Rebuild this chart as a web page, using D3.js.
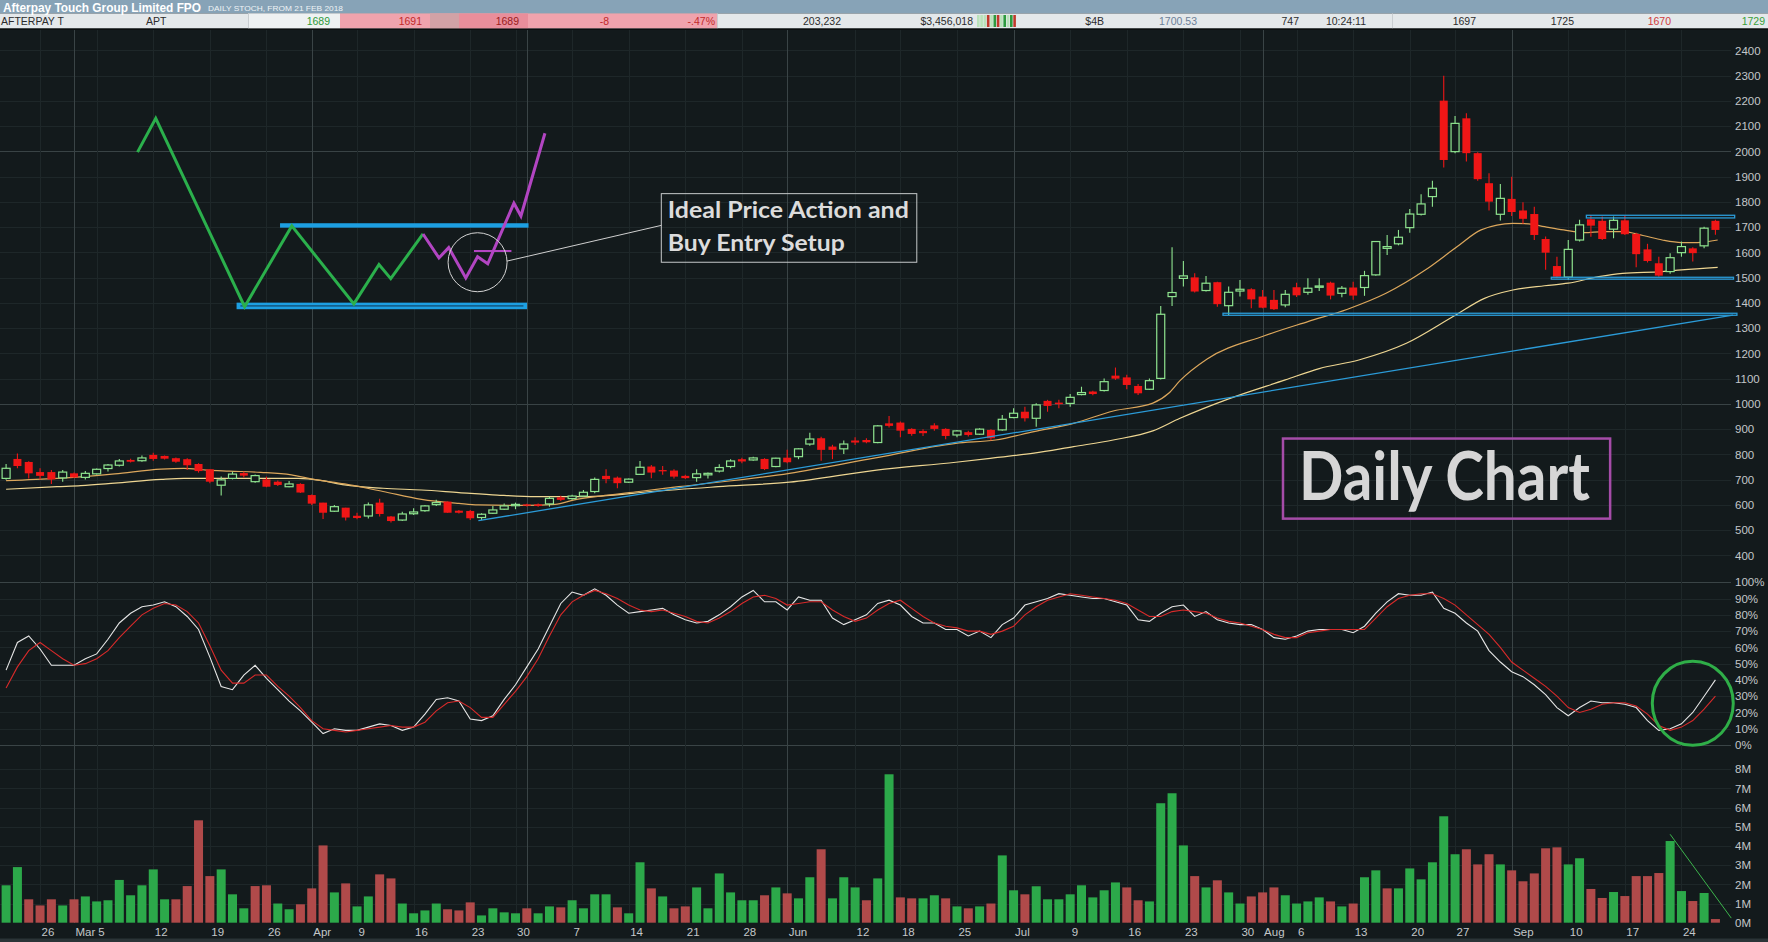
<!DOCTYPE html>
<html><head><meta charset="utf-8"><title>Afterpay Touch Group Limited FPO - Daily</title>
<script src="https://d3js.org/d3.v7.min.js"></script>
<style>html,body{margin:0;padding:0;background:#131a1c;overflow:hidden}svg{display:block}</style>
</head><body>
<svg id="chart" width="1768" height="942" xmlns="http://www.w3.org/2000/svg"></svg>
<script>
// ---------------- DATA ----------------
const opens = [705,782,770,730,730,707,725,709,723,744, 757,778,775,798,794,785,781,762,741,678,
 705,726,692,701,692,672,683,639,609,575, 589,557,556,609,554,540,565,577,601,613,
 577,576,550,567,583,597,602,602,604,630, 625,635,653,715,708,690,721,752,738,736,
 715,708,719,734,752,781,778,782,752,787, 791,841,864,831,822,855,857,847,923,926,
 901,893,915,901,877,888,880,897,897,946, 969,943,1012,1005,1002,1037,1049,1053,1112,1105,
 1071,1058,1101,1425,1497,1501,1449,1482,1389,1447, 1454,1425,1412,1392,1462,1442,1462,1480,1438,1461,
 1461,1511,1616,1634,1698,1751,1821,2201,1999,2131, 1993,1874,1751,1812,1766,1752,1653,1546,1502,1649,
 1731,1725,1692,1727,1673,1612,1557,1524,1599,1616, 1626,1725];
const highs = [762,804,773,745,738,738,728,734,744,762, 782,783,796,807,796,788,785,765,741,712,
 732,732,720,712,697,695,686,641,609,600, 589,569,610,624,556,573,587,600,620,613,
 580,580,567,596,606,609,605,606,633,636, 640,659,709,741,712,705,774,758,754,741,
 719,741,728,761,781,787,791,785,787,818, 824,886,870,838,855,868,864,916,952,930,
 904,900,923,904,897,894,904,900,956,983, 989,1003,1016,1016,1039,1068,1052,1101,1144,1115,
 1079,1101,1388,1620,1566,1517,1507,1484,1465,1491, 1458,1451,1451,1451,1480,1498,1498,1484,1467,1484,
 1527,1645,1669,1689,1772,1830,1884,2300,2140,2151, 1997,1913,1871,1900,1799,1781,1663,1583,1649,1729,
 1748,1742,1742,1744,1678,1634,1583,1597,1643,1620, 1702,1729];
const lows = [700,745,705,701,683,692,707,701,720,732, 752,768,771,775,780,767,738,728,686,637,
 701,709,688,670,675,670,647,600,544,572, 538,543,546,554,530,536,560,573,596,569,
 566,540,540,564,580,583,594,593,593,615, 620,633,646,686,666,687,719,706,719,705,
 703,692,705,728,745,765,775,738,749,765, 781,834,775,781,802,837,844,844,907,868,
 874,873,894,860,868,871,877,855,894,943, 930,910,969,983,989,1034,1034,1049,1095,1058,
 1035,1055,1097,1388,1465,1441,1445,1385,1352,1425, 1379,1379,1372,1383,1423,1432,1447,1414,1422,1412,
 1428,1508,1590,1628,1678,1746,1781,1936,1993,1960, 1884,1766,1726,1744,1713,1649,1531,1498,1491,1643,
 1662,1649,1656,1669,1541,1560,1504,1515,1583,1564, 1616,1670];
const closes = [745,754,725,715,701,730,709,725,741,758, 774,771,786,782,783,771,757,734,692,699,
 722,716,716,672,679,683,649,605,569,593, 550,548,600,564,536,564,572,596,609,569,
 569,547,563,580,596,602,597,596,626,620, 635,650,701,702,686,702,749,728,733,712,
 706,723,725,748,774,772,786,742,785,769, 822,861,818,818,841,847,848,913,913,894,
 881,884,901,873,893,877,900,864,939,963, 943,996,992,999,1026,1045,1039,1088,1100,1075,
 1042,1092,1355,1441,1507,1445,1478,1395,1442,1454, 1414,1381,1375,1434,1430,1458,1467,1429,1458,1429,
 1508,1643,1623,1660,1752,1792,1854,1966,2111,1993, 1890,1801,1814,1760,1733,1669,1599,1504,1612,1709,
 1706,1653,1727,1672,1593,1566,1508,1579,1623,1597, 1696,1689];
// volume in millions of shares
const volumes = [1.95,2.9,1.22,0.9,1.22,0.9,1.22,1.37,1.11,1.17, 2.23,1.43,1.95,2.78,1.22,1.22,1.91,5.34,2.43,2.78,
 1.48,0.75,1.91,1.95,1.0,0.7,0.96,1.79,4.03,1.58, 2.05,0.85,1.37,2.52,2.31,1.0,0.49,0.64,1.0,0.7,
 0.64,1.06,0.38,0.75,0.54,0.49,0.75,0.49,0.85,0.8, 1.17,0.75,1.48,1.48,0.8,0.49,3.15,1.79,1.37,0.75,
 0.85,1.84,0.75,2.57,1.58,1.17,1.17,1.43,1.84,1.53, 1.27,2.37,3.83,1.27,2.37,1.84,1.17,2.31,7.74,1.32,
 1.27,1.27,1.43,1.27,0.85,0.75,0.85,1.0,3.51,1.69, 1.48,1.9,1.22,1.22,1.48,1.95,1.32,1.69,2.1,1.84,
 1.17,1.11,6.23,6.75,4.03,2.43,1.84,2.21,1.58,1.0, 1.37,1.58,1.84,1.43,1.0,1.11,1.32,1.11,0.85,1.0,
 2.37,2.73,1.79,1.79,2.83,2.26,3.15,5.55,3.57,3.83, 3.04,3.57,3.04,2.73,2.16,2.57,3.88,3.93,3.04,3.36,
 1.76,1.29,1.6,1.39,2.43,2.43,2.59,4.26,1.65,1.13, 1.55,0.19];
// G = up-volume bar, R = down-volume bar
const volumeDir = ("GGRRRGRGGG"+"GGGGGRRRRG"+"GGRRGGRRRG"+"RGGRRGGGGR"+"RRGGGGRGGR"+
 "GGGGRGGRGR"+"RGGGGGGRGR"+"GGRGGGRGGR"+"RGGRGRGRGG"+"RGGGGGGGGR"+
 "RGGGGRGRGG"+"RRRGGGGRGR"+"GGRGGGGGGR"+"RRGRRRRRGG"+"RRGRRRRGGR"+"GR").split("");
// slow stochastic %K and %D
const stochK = [46,63,67,59,49,49,49,53,56,65, 75,81,85,86,88,85,79,71,54,36,
 34,43,49,41,34,27,21,14,7,10, 9,9,11,13,12,9,11,19,28,29,
 27,16,15,18,28,37,48,59,73,87, 94,92,96,92,86,81,82,83,84,80,
 77,75,76,80,85,91,95,88,88,83, 91,89,89,78,74,77,80,87,89,86,
 79,75,75,71,71,67,70,66,74,78, 86,88,90,93,92,91,90,90,88,86,
 77,76,81,85,86,79,82,77,75,74, 74,71,66,65,67,70,71,71,71,69,
 73,81,88,93,92,92,94,84,81,75, 70,58,51,45,42,37,31,23,18,23,
 27,26,26,25,23,15,9,10,13,20, 30,40];
const stochD = [35,48,58,63,58,53,49,50,53,58, 66,73,80,84,87,86,82,75,61,46,
 38,38,43,43,36,30,23,15,10,9, 8,9,10,11,12,11,11,14,21,26,
 27,23,17,17,25,33,42,53,67,80, 88,92,95,93,90,86,83,82,83,81,
 79,76,75,78,82,87,91,92,90,86, 87,88,88,83,79,76,78,83,87,89,
 84,79,75,73,72,70,70,68,70,73, 80,85,89,91,93,92,91,90,89,87,
 83,79,79,82,83,82,81,78,76,75, 73,71,68,66,66,69,70,71,71,71,
 71,78,85,90,92,93,93,90,86,80, 74,68,60,51,46,41,36,30,23,20,
 22,25,26,26,24,19,12,9,11,15, 22,30];
// moving averages read at [day index, price]
const maFast = [[0,696],[4.5,705],[9.6,723],[13.7,742],[15.7,745],[17.7,738],[19.7,734],[22.5,729],[25.2,719],
 [27.2,701],[29.9,683],[33.3,653],[36.7,622],[40,606],[41.7,600],[46,598],[48.5,602],[50.2,620],[52.5,635],
 [55.9,653],[59.4,672],[69.2,725],[76.2,781],[83.9,844],[87.4,857],[90.8,890],[94.3,923],[97.8,972],
 [101.3,1003],[102.7,1042],[103.7,1092],[106.1,1178],[111.1,1269],[115,1326],[118.5,1375],[121.9,1438],
 [125.4,1531],[128.2,1623],[130.3,1689],[133.1,1715],[134.5,1713],[135.9,1702],[137.6,1689],[139.4,1678],
 [141.1,1682],[142.8,1682],[144.6,1667],[146.3,1649],[148,1639],[149.4,1639],[151.2,1649]];
const maSlow = [[0,662],[4.5,672],[6.6,676],[9.6,686],[13.7,701],[15.7,705],[19.7,705],[25.8,705],[27.9,696],
 [29.9,679],[33.3,666],[36.7,659],[40,649],[43.4,639],[46.8,633],[50.2,633],[52.5,635],[57,653],[62.9,672],
 [69.2,690],[76.9,738],[83.9,769],[87.4,787],[90.8,805],[94.3,831],[97.8,857],[101.3,893],[103.7,943],
 [108,1020],[113,1095],[116,1140],[119.5,1174],[123.7,1240],[127.9,1348],[130.6,1418],[133.1,1451],
 [135.9,1468],[138,1478],[140.7,1504],[142.8,1517],[146.3,1524],[148,1531],[151.2,1541]];
// axis tick values / labels
const priceTicks = [400,500,600,700,800,900,1000,1100,1200,1300,1400,1500,1600,1700,1800,1900,2000,2100,2200,2300,2400];
const stochTicks = [0,10,20,30,40,50,60,70,80,90,100];
const volumeTicks = [0,1,2,3,4,5,6,7,8];
const dateLabels = [[3,"26"],[6,"Mar"],[8,"5"],[13,"12"],[18,"19"],[23,"26"],[27,"Apr"],[31,"9"],[36,"16"],
 [41,"23"],[45,"30"],[50,"7"],[55,"14"],[60,"21"],[65,"28"],[69,"Jun"],[75,"12"],[79,"18"],[84,"25"],
 [89,"Jul"],[94,"9"],[99,"16"],[104,"23"],[109,"30"],[111,"Aug"],[114,"6"],[119,"13"],[124,"20"],
 [128,"27"],[133,"Sep"],[138,"10"],[143,"17"],[148,"24"]];
const monthStarts = [6,27,46,69,89,111,133];
const weekStarts = [3,8,13,18,23,31,36,41,45,50,55,60,65,75,79,84,94,99,104,109,114,119,124,128,138,143,148];
// quote row
const quoteCells = [
 {t:"AFTERPAY T",x:1,a:"start",c:"#2c2c2c"},{t:"APT",x:146,a:"start",c:"#2c2c2c"},
 {t:"1689",x:330,a:"end",c:"#2f9a3a"},{t:"1691",x:422,a:"end",c:"#c22a2a"},
 {t:"1689",x:519,a:"end",c:"#9a1c1c"},{t:"-8",x:609,a:"end",c:"#c22a2a"},
 {t:"-.47%",x:715,a:"end",c:"#c22a2a"},{t:"203,232",x:841,a:"end",c:"#2c2c2c"},
 {t:"$3,456,018",x:973,a:"end",c:"#2c2c2c"},{t:"$4B",x:1104,a:"end",c:"#2c2c2c"},
 {t:"1700.53",x:1197,a:"end",c:"#6c8098"},{t:"747",x:1299,a:"end",c:"#2c2c2c"},
 {t:"10:24:11",x:1366,a:"end",c:"#2c2c2c"},{t:"1697",x:1476,a:"end",c:"#2c2c2c"},
 {t:"1725",x:1574,a:"end",c:"#2c2c2c"},{t:"1670",x:1671,a:"end",c:"#d03a3a"},
 {t:"1729",x:1765,a:"end",c:"#3aa03a"}];

// ---------------- CHART ----------------
const BG = "#131a1c", PR = 1731;
const svg = d3.select("#chart");
svg.append("rect").attr("width",1768).attr("height",942).attr("fill",BG);
const defs = svg.append("defs");
defs.append("clipPath").attr("id","clipP").append("rect").attr("x",0).attr("y",30).attr("width",PR).attr("height",552);

const x  = d3.scaleLinear().domain([0,151]).range([6.1, 6.1 + 151*11.32]);
const yP = d3.scaleLinear().domain([400,2400]).range([555.4,50.4]);
const yS = d3.scaleLinear().domain([0,100]).range([745,582.3]);
const yV = d3.scaleLinear().domain([0,8]).range([922.7,769.3]);

// grid
const grid = svg.append("g").attr("shape-rendering","crispEdges");
grid.selectAll(".hp").data(priceTicks).join("line")
  .attr("x1",0).attr("x2",PR).attr("y1",d=>Math.round(yP(d))+0.5).attr("y2",d=>Math.round(yP(d))+0.5)
  .attr("stroke",d=>d%1000===0?"#394345":"#1e2729");
grid.selectAll(".hs").data(stochTicks).join("line")
  .attr("x1",0).attr("x2",PR).attr("y1",d=>Math.round(yS(d))+0.5).attr("y2",d=>Math.round(yS(d))+0.5)
  .attr("stroke",d=>(d===0||d===100)?"#3a4446":"#1e2729");
grid.selectAll(".hv").data(volumeTicks.filter(d=>d>0)).join("line")
  .attr("x1",0).attr("x2",PR).attr("y1",d=>Math.round(yV(d))+0.5).attr("y2",d=>Math.round(yV(d))+0.5)
  .attr("stroke","#1e2729");
grid.selectAll(".vw").data(weekStarts).join("line")
  .attr("x1",d=>Math.round(x(d))+0.5).attr("x2",d=>Math.round(x(d))+0.5).attr("y1",30).attr("y2",923)
  .attr("stroke","#1e2729");
grid.selectAll(".vm").data(monthStarts).join("line")
  .attr("x1",d=>Math.round(x(d))+0.5).attr("x2",d=>Math.round(x(d))+0.5).attr("y1",30).attr("y2",923)
  .attr("stroke","#3a4446");

// price panel
const pp = svg.append("g").attr("clip-path","url(#clipP)");
const maLine = d3.line().x(d=>x(d[0])).y(d=>yP(d[1])).curve(d3.curveMonotoneX);
pp.append("path").attr("d",maLine(maSlow)).attr("fill","none").attr("stroke","#eed692").attr("stroke-width",1.2);
pp.append("path").attr("d",maLine(maFast)).attr("fill","none").attr("stroke","#dca75c").attr("stroke-width",1.2);

const candles = opens.map((o,i)=>({i,o,h:highs[i],l:lows[i],c:closes[i],up:closes[i]>=o}));
const UP="#8fe48f", DN="#f01616";
pp.selectAll(".wick").data(candles).join("line")
  .attr("x1",d=>x(d.i)).attr("x2",d=>x(d.i)).attr("y1",d=>yP(d.h)).attr("y2",d=>yP(d.l))
  .attr("stroke",d=>d.up?UP:DN).attr("stroke-width",1.1);
pp.selectAll(".body").data(candles).join("rect")
  .attr("x",d=>x(d.i)-4).attr("width",8)
  .attr("y",d=>yP(Math.max(d.o,d.c))).attr("height",d=>Math.max(1.3,Math.abs(yP(d.o)-yP(d.c))))
  .attr("fill",d=>d.up?BG:DN).attr("stroke",d=>d.up?UP:"none").attr("stroke-width",1.2);

// trend lines & zones
const BL="#2b9bd8";
svg.append("line").attr("x1",x(41.72)).attr("y1",yP(537.6)).attr("x2",x(152.55)).attr("y2",yP(1352))
  .attr("stroke",BL).attr("stroke-width",1.3);
[[107.5,152.9,1359,1351],[139.6,152.7,1747,1736.5],[136.5,152.6,1501.5,1494]].forEach(z=>{
  svg.append("rect").attr("x",x(z[0])).attr("width",x(z[1])-x(z[0]))
    .attr("y",yP(z[2])).attr("height",yP(z[3])-yP(z[2]))
    .attr("fill","none").attr("stroke",BL).attr("stroke-width",1.3);
});

// annotation sketch
const setupGreen = [[11.61,1997],[13.22,2131],[21.07,1385],[25.24,1705],[30.72,1396],[32.94,1552],[33.98,1496],[36.83,1673]];
const setupPurple = [[36.83,1673],[38.24,1578],[39.1,1619],[40.61,1499],[41.65,1583],[42.55,1555],[44.86,1795],[45.48,1744],[47.6,2072]];
const ln = d3.line().x(d=>x(d[0])).y(d=>yP(d[1]));
svg.append("rect").attr("x",x(24.2)).attr("width",x(46.15)-x(24.2)).attr("y",yP(1715.5)).attr("height",yP(1698)-yP(1715.5)).attr("fill","#1d9fe2");
svg.append("rect").attr("x",x(20.36)).attr("width",x(46.02)-x(20.36)).attr("y",yP(1401)).attr("height",yP(1375)-yP(1401)).attr("fill","#1d9fe2");
svg.append("line").attr("x1",x(20.7)).attr("x2",x(45.7)).attr("y1",yP(1388)).attr("y2",yP(1388)).attr("stroke","#0f3550").attr("stroke-width",1);
svg.append("path").attr("d",ln(setupGreen)).attr("fill","none").attr("stroke","#2bb04c").attr("stroke-width",3).attr("stroke-linejoin","miter");
svg.append("path").attr("d",ln(setupPurple)).attr("fill","none").attr("stroke","#b245c2").attr("stroke-width",3);
svg.append("line").attr("x1",x(41.33)).attr("x2",x(44.64)).attr("y1",yP(1605.7)).attr("y2",yP(1605.7)).attr("stroke","#b245c2").attr("stroke-width",2);
svg.append("circle").attr("cx",x(41.65)).attr("cy",yP(1561)).attr("r",29.5).attr("fill","none").attr("stroke","#d4d4d4").attr("stroke-width",1);
svg.append("line").attr("x1",x(44.25)).attr("y1",yP(1565.6)).attr("x2",x(57.88)).attr("y2",yP(1707)).attr("stroke","#cfcfcf").attr("stroke-width",1);
const bx0=x(57.88), bx1=x(80.45), by0=yP(1832.7), by1=yP(1561);
svg.append("rect").attr("x",bx0).attr("y",by0).attr("width",bx1-bx0).attr("height",by1-by0).attr("fill","none").attr("stroke","#c6c9ca").attr("stroke-width",1);
const annFont = "bold 23px Lato, 'Open Sans', sans-serif";
svg.append("text").attr("x",bx0+6.5).attr("y",by0+24.6).attr("fill","#dcdcdc").style("font",annFont)
  .attr("textLength",241).attr("lengthAdjust","spacingAndGlyphs").text("Ideal Price Action and");
svg.append("text").attr("x",bx0+6.5).attr("y",by0+57).attr("fill","#dcdcdc").style("font",annFont)
  .attr("textLength",177).attr("lengthAdjust","spacingAndGlyphs").text("Buy Entry Setup");

// Daily Chart label
const dx0=x(112.8), dx1=x(141.7), dy0=yP(862.8), dy1=yP(545.6);
svg.append("rect").attr("x",dx0).attr("y",dy0).attr("width",dx1-dx0).attr("height",dy1-dy0).attr("fill","none").attr("stroke","#a54ca8").attr("stroke-width",2.5);
svg.append("text").attr("x",dx0+16).attr("y",dy0+61).attr("fill","#d6d6d6").style("font","bold 66px Lato, 'Open Sans', sans-serif")
  .attr("textLength",291).attr("lengthAdjust","spacingAndGlyphs").text("Daily Chart");

// stochastic
const sLine = d3.line().x((d,i)=>x(i)).y(d=>yS(d));
svg.append("path").attr("d",sLine(stochK)).attr("fill","none").attr("stroke","#e6e6e6").attr("stroke-width",1.1);
svg.append("path").attr("d",sLine(stochD)).attr("fill","none").attr("stroke","#d82a2a").attr("stroke-width",1.1);
svg.append("ellipse").attr("cx",x(149.0)).attr("cy",yS(25.6)).attr("rx",40.5).attr("ry",42).attr("fill","none").attr("stroke","#2fae48").attr("stroke-width",3);

// volume
svg.append("g").selectAll("rect").data(volumes).join("rect")
  .attr("x",(d,i)=>x(i)-4.5).attr("width",9).attr("y",d=>yV(d)).attr("height",d=>yV(0)-yV(d))
  .attr("fill",(d,i)=>volumeDir[i]==="G"?"#2ca94a":"#b04a4a");
svg.append("line").attr("x1",x(147)).attr("y1",yV(4.61)).attr("x2",x(152.4)).attr("y2",yV(0.24)).attr("stroke","#3cb44c").attr("stroke-width",1);

// axes
const axFont = "11.5px 'Liberation Sans', Arial, sans-serif", axCol = "#c3c7c9";
function styleAxis(g){ g.select(".domain").remove(); g.selectAll("text").attr("fill",axCol).style("font",axFont); }
svg.append("g").attr("transform",`translate(${PR},0)`)
  .call(d3.axisRight(yP).tickValues(priceTicks).tickSize(0).tickPadding(4).tickFormat(d3.format("d"))).call(styleAxis);
svg.append("g").attr("transform",`translate(${PR},0)`)
  .call(d3.axisRight(yS).tickValues(stochTicks).tickSize(0).tickPadding(4).tickFormat(d=>d+"%")).call(styleAxis);
svg.append("g").attr("transform",`translate(${PR},0)`)
  .call(d3.axisRight(yV).tickValues(volumeTicks).tickSize(0).tickPadding(4).tickFormat(d=>d+"M")).call(styleAxis);
svg.append("g").selectAll("text").data(dateLabels).join("text")
  .attr("x",d=>x(d[0])+1.5).attr("y",936).attr("fill",axCol).style("font",axFont).text(d=>d[1]);
svg.append("rect").attr("x",0).attr("y",938.5).attr("width",1768).attr("height",4).attr("fill","#2b3437");

// header
const hd = svg.append("g");
hd.append("rect").attr("x",0).attr("y",0).attr("width",1768).attr("height",13.5).attr("fill","#87a3b7");
hd.append("rect").attr("x",0).attr("y",13.5).attr("width",1768).attr("height",15).attr("fill","#e4e8ea");
hd.append("rect").attr("x",248).attr("y",13.5).attr("width",92).attr("height",15).attr("fill","#eef1f2");
hd.append("rect").attr("x",340).attr("y",13.5).attr("width",377).attr("height",15).attr("fill","#f0a3ad");
hd.append("rect").attr("x",430).attr("y",13.5).attr("width",29).attr("height",15).attr("fill","#d2a2a6");
hd.append("rect").attr("x",459).attr("y",13.5).attr("width",69).attr("height",15).attr("fill","#e98e9b");
[248,717,1392].forEach(v=>hd.append("rect").attr("x",v).attr("y",13.5).attr("width",1).attr("height",15).attr("fill","#c9ced1"));
const stripes = ["#b9e2b9","#b9e2b9","#b9e2b9","#c0392b","#b9e2b9","#2e9a3e","#c0392b","#b9e2b9","#2e9a3e","#b9e2b9","#2e9a3e","#c0392b"];
stripes.forEach((c,k)=>hd.append("rect").attr("x",977+k*3.3).attr("y",15).attr("width",2.6).attr("height",12).attr("fill",c));
hd.append("rect").attr("x",0).attr("y",28.5).attr("width",1768).attr("height",1.5).attr("fill","#0a0e0f");
hd.append("text").attr("x",3).attr("y",11.6).attr("fill","#ffffff")
  .style("font","bold 13px 'Liberation Sans Narrow','Arial Narrow','Liberation Sans',sans-serif")
  .attr("textLength",198).attr("lengthAdjust","spacingAndGlyphs").text("Afterpay Touch Group Limited FPO");
hd.append("text").attr("x",208).attr("y",10.8).attr("fill","#eef3f6")
  .style("font","8px 'Liberation Sans',sans-serif")
  .attr("textLength",135).attr("lengthAdjust","spacingAndGlyphs").text("DAILY STOCH, FROM 21 FEB 2018");
hd.selectAll(".q").data(quoteCells).join("text")
  .attr("x",d=>d.x).attr("y",25).attr("text-anchor",d=>d.a).attr("fill",d=>d.c)
  .style("font","10.5px 'Liberation Sans Narrow','Arial Narrow','Liberation Sans',sans-serif").text(d=>d.t);
</script>
</body></html>
